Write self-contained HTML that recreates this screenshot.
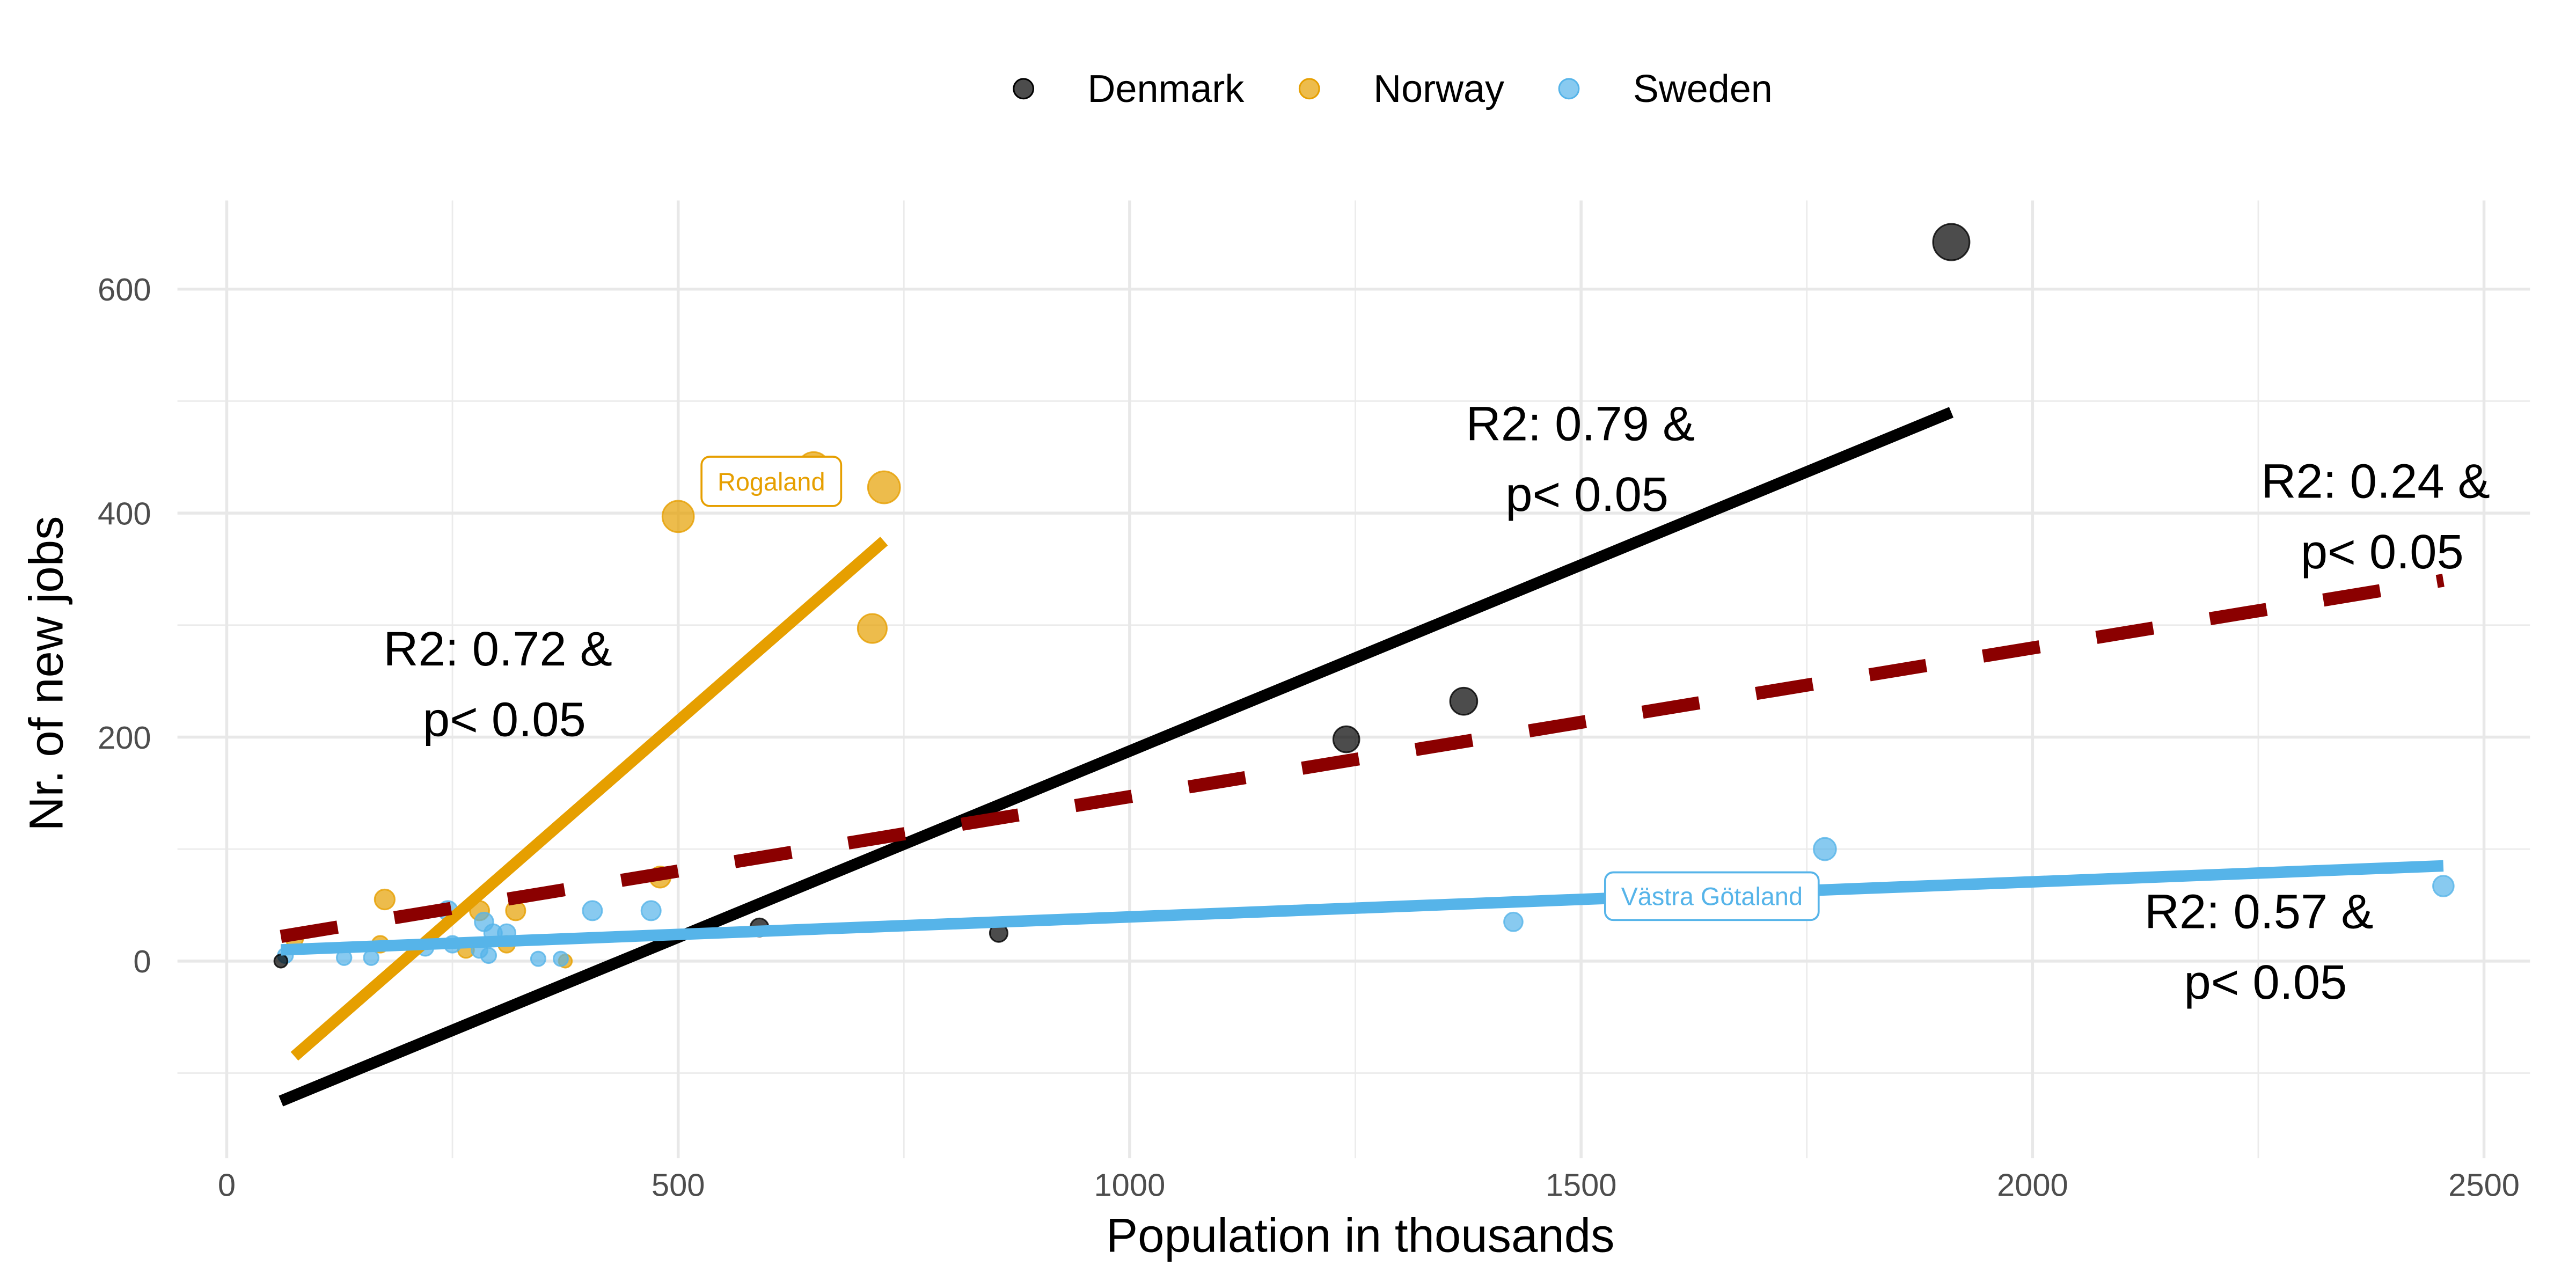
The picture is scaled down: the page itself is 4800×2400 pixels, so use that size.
<!DOCTYPE html>
<html><head><meta charset="utf-8"><style>
html,body{margin:0;padding:0;background:#fff;}
svg{display:block;font-family:"Liberation Sans",sans-serif;}
</style></head><body>
<svg id="chart" width="4800" height="2400" viewBox="0 0 1568 784" xmlns="http://www.w3.org/2000/svg">
<g id="grid"></g>
<g id="marks"></g>
<g id="axes"></g>
<text x="828" y="762" font-size="29" text-anchor="middle" fill="#000">Population in thousands</text>
<text transform="translate(38,410) rotate(-90)" font-size="29" text-anchor="middle" fill="#000">Nr. of new jobs</text>
<g font-size="23.5">
 <g><circle cx="623" cy="54" r="6" fill="#000" fill-opacity="0.7" stroke="#000" stroke-width="1"/><text x="662" y="62">Denmark</text></g>
 <g><circle cx="797" cy="54" r="6" fill="#E69F00" fill-opacity="0.7" stroke="#E69F00" stroke-width="1"/><text x="836" y="62">Norway</text></g>
 <g><circle cx="955" cy="54" r="6" fill="#56B4E9" fill-opacity="0.7" stroke="#56B4E9" stroke-width="1"/><text x="994" y="62">Sweden</text></g>
</g>
</svg>
<script>
const xTicks=[0,500,1000,1500,2000,2500];
const xMinor=[250,750,1250,1750,2250];
const yTicks=[0,200,400,600];
const yMinor=[-100,100,300,500];
const denX=[60,590,855,1240,1370,1910];
const denY=[0,30,25,198,232,642];
const norX=[75,175,170,265,280,320,310,375,480,500,650,715,728];
const norY=[20,55,15,10,45,45,15,0,75,397,440,297,423];
const sweX=[65,130,160,220,245,250,285,290,295,280,310,345,370,405,470,1425,1770,2455];
const sweY=[5,3,3,12,45,15,35,5,25,10,25,2,2,45,45,35,100,67];
const fitX0=[75,60,60,60];
const fitY0=[-85,-125,10,22];
const fitX1=[728,1910,2455,2455];
const fitY1=[375,490,85,340];
const fitNames=['fit-norway','fit-denmark','fit-sweden','fit-overall'];
const fitColors=['#E69F00','#000000','#56B4E9','#8B0000'];
const r2Labels=['R2: 0.72 &','R2: 0.79 &','R2: 0.57 &','R2: 0.24 &'];
const r2X=[303,962,1375,1446];
const r2Y=[395,258,555,293];

const NS='http://www.w3.org/2000/svg';
const X=v=>138+v*0.5496;
const Y=v=>585-v*0.6817;
const L=108,R=1540,T=122,B=705;
function mk(tag,attrs,parent){const e=document.createElementNS(NS,tag);for(const k in attrs)e.setAttribute(k,attrs[k]);parent.appendChild(e);return e;}
const grid=document.getElementById('grid'),marks=document.getElementById('marks'),axes=document.getElementById('axes');
xMinor.forEach(v=>{const l=mk('line',{x1:X(v),x2:X(v),y1:T,y2:B,stroke:'#ebebeb','stroke-width':0.9},grid);

});
yMinor.forEach(v=>{const l=mk('line',{x1:L,x2:R,y1:Y(v),y2:Y(v),stroke:'#ebebeb','stroke-width':0.9},grid);

});
xTicks.forEach(v=>{const l=mk('line',{x1:X(v),x2:X(v),y1:T,y2:B,stroke:'#e8e8e8','stroke-width':1.8},grid);


const t=mk('text',{x:X(v),y:728,'font-size':19.5,'text-anchor':'middle',fill:'#4d4d4d'},axes);t.textContent=v;

});
yTicks.forEach(v=>{const l=mk('line',{x1:L,x2:R,y1:Y(v),y2:Y(v),stroke:'#e8e8e8','stroke-width':1.8},grid);


const t=mk('text',{x:92,y:Y(v)+7,'font-size':19.5,'text-anchor':'end',fill:'#4d4d4d'},axes);t.textContent=v;

});
const rad=v=>4+Math.sqrt(Math.max(v,0))*0.28;
function pts(xs,ys,col,name){xs.forEach((x,i)=>{const c=mk('circle',{cx:X(x),cy:Y(ys[i]),r:rad(ys[i]),fill:col,'fill-opacity':0.7,stroke:col,'stroke-opacity':0.8,'stroke-width':1},marks);

});}
pts(norX,norY,'#E69F00','point-norway');
pts(sweX,sweY,'#56B4E9','point-sweden');
pts(denX,denY,'#000000','point-denmark');
fitX0.forEach((x,i)=>{const a={x1:X(x),y1:Y(fitY0[i]),x2:X(fitX1[i]),y2:Y(fitY1[i]),stroke:fitColors[i],'stroke-width':i==3?8:7};
if(i==3)a['stroke-dasharray']='35 35';
const l=mk('line',a,marks);

});
r2Labels.forEach((s,i)=>{const g=mk('g',{},marks);


const t1=mk('text',{x:r2X[i],y:r2Y[i]+10,'font-size':29.5,'text-anchor':'middle',fill:'#000'},g);t1.textContent=s;
const t2=mk('text',{x:r2X[i]+4,y:r2Y[i]+53,'font-size':29.5,'text-anchor':'middle',fill:'#000'},g);t2.textContent='p< 0.05';});
function lab(x,y,w,h,txt,col,name){const g=mk('g',{},marks);


mk('rect',{x:x,y:y,width:w,height:h,rx:5,fill:'#fff',stroke:col,'stroke-width':1.2},g);
const t=mk('text',{x:x+w/2,y:y+h/2+5.5,'font-size':15.3,'text-anchor':'middle',fill:col},g);t.textContent=txt;}
lab(427,278,85,30,'Rogaland','#E69F00','label-rogaland');
lab(977,531,130,29,'Västra Götaland','#56B4E9','label-vastra-gotaland');
</script>
</body></html>
